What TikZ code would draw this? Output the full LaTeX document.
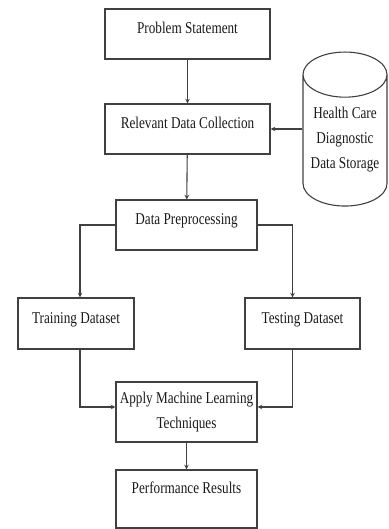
\documentclass[tikz,border=0pt]{standalone}
\usepackage{fontspec}
\setmainfont{Liberation Serif}[FakeStretch=0.8]
\usetikzlibrary{shapes, arrows, positioning}

\tikzset{
  box/.style={draw=black!75, line width=1.1pt, text=black!90, text height=11pt, text depth=11.5pt},
  flow/.style={->, draw=black!75, line width=1.1pt}
}

\begin{document}
\begin{tikzpicture}[>=stealth, x=1pt, y=-1pt, font=\fontsize{16.5}{25}\selectfont]
\useasboundingbox (0,0) rectangle (388,529);
%
\node[box, minimum width=165, minimum height=50] (ps) at (187.5, 34) {Problem Statement};
\node[box, minimum width=165, minimum height=50] (rdc) at (187.5, 129) {Relevant Data Collection};
\node[draw=black!75, line width=1.1pt, text=black!90, cylinder, shape border rotate=90, aspect=0.6,
      minimum width=84, minimum height=154] (hcd) at (345, 145)
      {\raisebox{1.9pt}[0pt][0pt]{\begin{tabular}{@{}c@{}}Health Care\\Diagnostic\\Data Storage\end{tabular}}};
\node[box, minimum width=141, minimum height=50] (dp) at (186.5, 225) {Data Preprocessing};
\node[box, minimum width=116, minimum height=51] (trn) at (76, 323.5) {Training Dataset};
\node[box, minimum width=115, minimum height=51] (tst) at (302.5, 323.5) {Testing Dataset};
\node[draw=black!75, line width=1.1pt, text=black!90, minimum width=141, minimum height=60,
      align=center] (aml) at (186.5, 412) {Apply Machine Learning\\Techniques};
\node[box, minimum width=141, minimum height=58, text depth=22.4pt] (pr) at (186.5, 499) {Performance Results};
%
\draw[flow] (ps) -- (rdc);
\draw[flow] (rdc.east -| hcd.west) -- (rdc.east);
\draw[flow] (rdc) -- (dp);
\draw[flow] (dp.west) -| ([xshift=4pt]trn.north);
\draw[flow] (dp.east) -| ([xshift=-10pt]tst.north);
\draw[flow] ([xshift=4pt]trn.south) |- ([yshift=5pt]aml.west);
\draw[flow] ([xshift=-10pt]tst.south) |- ([yshift=5pt]aml.east);
\draw[flow] (aml) -- (pr);
\end{tikzpicture}
\end{document}
